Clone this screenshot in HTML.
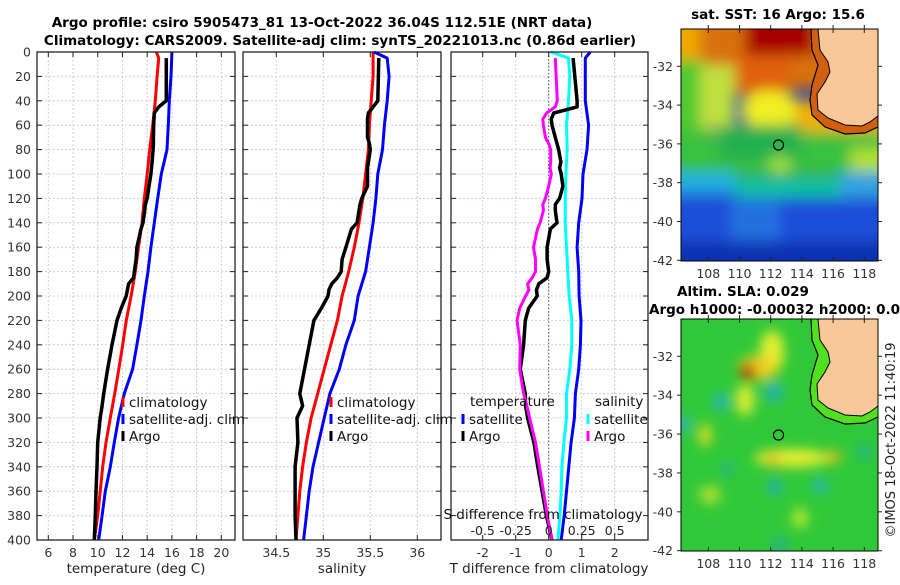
<!DOCTYPE html>
<html><head><meta charset="utf-8"><style>
html,body{margin:0;padding:0;background:#fff;}
svg text{font-family:"DejaVu Sans","Liberation Sans",sans-serif;}
</style></head><body>
<svg id="chart" width="900" height="580" viewBox="0 0 900 580" xmlns="http://www.w3.org/2000/svg">
<defs>
<filter id="blur3" x="-20%" y="-20%" width="140%" height="140%"><feGaussianBlur stdDeviation="7"/></filter>
<filter id="blur6" x="-50%" y="-50%" width="200%" height="200%"><feGaussianBlur stdDeviation="6"/></filter>
<clipPath id="clipM1"><rect x="681" y="29" width="197" height="232"/></clipPath>
<clipPath id="clipM2"><rect x="681" y="319" width="197" height="232"/></clipPath>
</defs>
<text x="322" y="27" font-size="13.5" font-weight="bold" text-anchor="middle" fill="#000">Argo profile: csiro 5905473_81 13-Oct-2022 36.04S 112.51E (NRT data)</text>
<text x="340" y="45" font-size="13.5" font-weight="bold" text-anchor="middle" fill="#000">Climatology: CARS2009. Satellite-adj clim: synTS_20221013.nc (0.86d earlier)</text>
<g id="panels"></g>

<!-- SST map -->
<g>
<text x="778" y="19" font-size="13.5" font-weight="bold" text-anchor="middle">sat. SST: 16 Argo: 15.6</text>
<g clip-path="url(#clipM1)">
<rect x="681" y="29" width="197" height="232" fill="#1a3fd0"/>
<g filter="url(#blur3)">
<rect x="660" y="10" width="240" height="80" fill="#d87010"/>
<rect x="660" y="10" width="40" height="55" fill="#f0a800"/>
<rect x="660" y="60" width="45" height="85" fill="#50c830"/>
<rect x="700" y="65" width="35" height="65" fill="#c0e040"/>
<rect x="745" y="10" width="70" height="45" fill="#a80000"/>
<rect x="735" y="55" width="55" height="40" fill="#e06010"/>
<ellipse cx="770" cy="110" rx="30" ry="20" fill="#f0f020"/>
<rect x="795" y="100" width="100" height="45" fill="#f0b000"/>
<rect x="660" y="132" width="240" height="45" fill="#38c040"/>
<rect x="720" y="125" width="80" height="35" fill="#20b050"/>
<rect x="850" y="148" width="40" height="30" fill="#b0e030"/>
<ellipse cx="780" cy="165" rx="12" ry="9" fill="#a0e040"/>
<rect x="660" y="172" width="75" height="22" fill="#20b0e0"/>
<rect x="735" y="178" width="105" height="28" fill="#10c0a0"/>
<rect x="840" y="172" width="50" height="28" fill="#30a0e0"/>
<rect x="660" y="198" width="240" height="80" fill="#1a4ed8"/>
<rect x="730" y="200" width="50" height="40" fill="#2070e0"/>
<rect x="660" y="242" width="240" height="30" fill="#1030b0"/>
</g>
<path d="M811,29 L812,50 L818,65 L812,85 L810,100 L812,115 L825,127 L845,134 L865,133 L878,127 L878,29 Z" fill="#d06010"/>
<path d="M818,29 L820,50 L828,62 L830,72 L825,82 L817,94 L818,110 L828,118 L845,125 L862,126 L870,122 L878,116 L878,29 Z" fill="#f8c898" stroke="#000" stroke-width="1"/>
<path d="M811,29 L812,50 L818,65 L812,85 L810,100 L812,115 L825,127 L845,134 L865,133 L878,127" fill="none" stroke="#000" stroke-width="1.2"/>
</g>
<circle cx="778.5" cy="145" r="5" fill="none" stroke="#000" stroke-width="1.2"/>
<rect x="681" y="29" width="197" height="232" fill="none" stroke="#000" stroke-width="1"/>
<g id="m1ticks" font-size="12.5" fill="#333"></g>
</g>

<!-- SLA map -->
<g>
<text x="677" y="296" font-size="13.5" font-weight="bold">Altim. SLA: 0.029</text>
<text x="649" y="314" font-size="13.5" font-weight="bold">Argo h1000: -0.00032 h2000: 0.02</text>
<g clip-path="url(#clipM2)">
<rect x="681" y="319" width="197" height="232" fill="#30c838"/>
<g filter="url(#blur6)">
<ellipse cx="772" cy="352" rx="12" ry="22" fill="#e8f030"/>
<ellipse cx="758" cy="368" rx="20" ry="12" fill="#f0d020"/>
<ellipse cx="748" cy="372" rx="8" ry="8" fill="#b01000"/>
<ellipse cx="745" cy="400" rx="9" ry="16" fill="#e0f030"/>
<ellipse cx="705" cy="435" rx="6" ry="11" fill="#f0e020"/>
<ellipse cx="792" cy="458" rx="38" ry="9" fill="#e8f030"/>
<ellipse cx="773" cy="460" rx="8" ry="6" fill="#f0c020"/>
<ellipse cx="833" cy="457" rx="8" ry="6" fill="#f0c020"/>
<ellipse cx="774" cy="392" rx="9" ry="9" fill="#20b0c0"/>
<ellipse cx="721" cy="402" rx="7" ry="8" fill="#20b0d0"/>
<ellipse cx="684" cy="424" rx="5" ry="9" fill="#30b0e0"/>
<ellipse cx="775" cy="487" rx="5" ry="8" fill="#20a0e0"/>
<ellipse cx="820" cy="486" rx="7" ry="7" fill="#20b0d0"/>
<ellipse cx="727" cy="469" rx="6" ry="6" fill="#20b0a0"/>
<ellipse cx="864" cy="452" rx="6" ry="8" fill="#20b0a0"/>
<ellipse cx="710" cy="495" rx="11" ry="9" fill="#b0e030"/>
<ellipse cx="800" cy="518" rx="8" ry="10" fill="#b8e830"/>
<ellipse cx="780" cy="545" rx="7" ry="7" fill="#20a8a0"/>
</g>
<path d="M811,319 L812,340 L818,355 L812,375 L810,390 L812,405 L825,417 L845,424 L865,423 L878,417 L878,319 Z" fill="#50e020"/>
<path d="M818,319 L820,340 L828,352 L830,362 L825,372 L817,384 L818,400 L828,408 L845,415 L862,416 L870,412 L878,406 L878,319 Z" fill="#f8c898" stroke="#000" stroke-width="1"/>
<path d="M811,319 L812,340 L818,355 L812,375 L810,390 L812,405 L825,417 L845,424 L865,423 L878,417" fill="none" stroke="#000" stroke-width="1.2"/>
</g>
<circle cx="778.5" cy="435" r="5" fill="none" stroke="#000" stroke-width="1.2"/>
<rect x="681" y="319" width="197" height="232" fill="none" stroke="#000" stroke-width="1"/>
<g id="m2ticks" font-size="12.5" fill="#333"></g>
</g>
<text transform="translate(895,440) rotate(-90)" font-size="13" text-anchor="middle" fill="#222">©IMOS 18-Oct-2022 11:40:19</text>
</svg>
<script>
// ---- data ----
const depths     = [0,5,20,40,60,80,100,120,140,160,180,200,220,240,260,280,300,320,340,360,380,400];
const tempClim   = [14.74,14.93,14.8,14.66,14.45,14.2,14.0,13.77,13.58,13.3,13.04,12.7,12.31,12.02,11.7,11.37,11.02,10.67,10.4,10.2,10.0,9.72];
const tempSat    = [16.0,15.98,15.93,15.79,15.71,15.6,15.14,14.85,14.58,14.3,14.07,13.77,13.5,13.17,12.82,12.15,11.69,11.34,11.02,10.61,10.35,10.08];
const salClim    = [35.53,35.53,35.53,35.51,35.49,35.48,35.45,35.42,35.38,35.33,35.27,35.2,35.15,35.08,35.01,34.94,34.87,34.82,34.78,34.75,34.73,34.71];
const salSat     = [35.54,35.68,35.7,35.68,35.65,35.63,35.58,35.56,35.53,35.49,35.45,35.37,35.33,35.24,35.17,35.07,35.01,34.95,34.89,34.85,34.82,34.79];
const satTDiff   = [1.26,1.11,1.11,1.11,1.21,1.16,1.04,1.01,0.91,0.86,0.91,0.92,0.98,0.96,0.91,0.81,0.78,0.68,0.61,0.54,0.47,0.38];
const satSDiff   = [0.015,0.15,0.16,0.15,0.135,0.14,0.13,0.125,0.125,0.135,0.145,0.155,0.175,0.175,0.16,0.135,0.135,0.115,0.1,0.095,0.085,0.07];
const argoDepths = [5,40,45,50,55,60,70,75,80,90,95,100,110,120,125,130,140,145,160,170,180,185,190,195,200,210,220,240,260,280,290,300,320,340,360,380,400];
const tempArgo   = [15.55,15.55,14.93,14.58,14.55,14.53,14.5,14.5,14.48,14.4,14.35,14.3,14.15,14.0,13.85,13.8,13.66,13.5,13.17,13.1,12.96,12.9,12.5,12.4,12.3,11.9,11.56,11.15,10.8,10.48,10.35,10.2,10.0,9.94,9.86,9.8,9.72];
const salArgo    = [35.59,35.58,35.53,35.48,35.47,35.47,35.47,35.49,35.5,35.48,35.47,35.47,35.47,35.41,35.39,35.38,35.36,35.3,35.24,35.2,35.19,35.15,35.09,35.06,35.05,34.98,34.9,34.85,34.8,34.75,34.78,34.72,34.73,34.7,34.7,34.7,34.71];
const argoTDiff  = [0.74,0.86,0.86,0.15,0.08,0.1,0.2,0.25,0.3,0.37,0.33,0.38,0.43,0.33,0.2,0.2,0.25,0.05,-0.05,-0.05,0,-0.05,-0.3,-0.37,-0.35,-0.61,-0.71,-0.76,-0.86,-0.71,-0.7,-0.64,-0.45,-0.33,-0.2,-0.07,0.1];
const argoSDiff  = [0.05,0.065,0.05,-0.015,-0.045,-0.04,-0.025,0.0,0.015,0.015,0.01,0.02,0.0,-0.025,-0.045,-0.04,-0.065,-0.085,-0.115,-0.1,-0.1,-0.125,-0.16,-0.15,-0.175,-0.22,-0.24,-0.215,-0.22,-0.19,-0.165,-0.145,-0.1,-0.07,-0.04,-0.01,0.025];
const depthTicks = [0,20,40,60,80,100,120,140,160,180,200,220,240,260,280,300,320,340,360,380,400];
const tempTicks  = [6,8,10,12,14,16,18,20];
const salTicks   = [34.5,35,35.5,36];
const tdTicks    = [-2,-1,0,1,2];
const sdTicks    = [-0.5,-0.25,0,0.25,0.5];
const sdTickLabels = ['-0.5','-0.25','0','0.25','0.5'];
const lonTicks   = [108,110,112,114,116,118];
const latTicks   = [-32,-34,-36,-38,-40,-42];

const NS='http://www.w3.org/2000/svg';
function mk(tag, attrs, parent){const e=document.createElementNS(NS,tag);for(const k in attrs)e.setAttribute(k,attrs[k]);parent.appendChild(e);return e;}
const root=document.getElementById('panels');
const yTop=52, yBot=540;
const yScale=d=>yTop+(d-0)*(yBot-yTop)/400;
const panels=[
 {name:'temperature-panel',x0:37,x1:235,scale:v=>48.3+(v-6)*12.36,ticks:tempTicks,label:'temperature (deg C)'},
 {name:'salinity-panel',x0:243,x1:441,scale:v=>276.3+(v-34.5)*94,ticks:salTicks,label:'salinity'},
 {name:'difference-panel',x0:451,x1:648,scale:v=>548.7+v*33,ticks:tdTicks,label:'T difference from climatology'}
];
const sdScale=v=>548.7+v*132;
function line(g,xs,ys,sx,color,name,w){
  let d='';
  for(let i=0;i<xs.length;i++){d+=(i?'L':'M')+sx(xs[i]).toFixed(1)+','+yScale(ys[i]).toFixed(1);}
  const p=mk('path',{d:d,fill:'none',stroke:color,'stroke-width':w||3,'stroke-linejoin':'round'},g);
  
  
}
panels.forEach((P,pi)=>{
  const g=mk('g',{},root);
  
  
  depthTicks.forEach(d=>{ if(d>0&&d<400) mk('line',{x1:P.x0,x2:P.x1,y1:yScale(d),y2:yScale(d),stroke:'#c8cce8','stroke-width':1,'stroke-dasharray':'2,2'},g); });
  P.ticks.forEach(t=>{ mk('line',{x1:P.scale(t),x2:P.scale(t),y1:yTop,y2:yBot,stroke:'#d8c8d8','stroke-width':1,'stroke-dasharray':'2,2'},g); });
  if(pi===2){ mk('line',{x1:548.7,x2:548.7,y1:yTop,y2:yBot,stroke:'#555','stroke-width':1,'stroke-dasharray':'1.5,2'},g); }
  if(pi===0){ line(g,tempClim,depths,P.scale,'#ff0000','temp-climatology-line');
    line(g,tempSat,depths,P.scale,'#0000ff','temp-satellite-line');
    line(g,tempArgo,argoDepths,P.scale,'#000000','temp-argo-line',3.5);}
  if(pi===1){ line(g,salClim,depths,P.scale,'#ff0000','sal-climatology-line');
    line(g,salSat,depths,P.scale,'#0000ff','sal-satellite-line');
    line(g,salArgo,argoDepths,P.scale,'#000000','sal-argo-line',3.5);}
  if(pi===2){ line(g,satSDiff,depths,sdScale,'#00ffff','sal-satellite-diff-line');
    line(g,satTDiff,depths,P.scale,'#0000ff','temp-satellite-diff-line');
    line(g,argoTDiff,argoDepths,P.scale,'#000000','temp-argo-diff-line',3.5);
    line(g,argoSDiff,argoDepths,sdScale,'#ff00ff','sal-argo-diff-line');}
  mk('rect',{x:P.x0,y:yTop,width:P.x1-P.x0,height:yBot-yTop,fill:'none',stroke:'#222','stroke-width':1.3},g);
  depthTicks.forEach(d=>{ const y=yScale(d);
    mk('line',{x1:P.x0,x2:P.x0+5,y1:y,y2:y,stroke:'#222'},g); mk('line',{x1:P.x1-5,x2:P.x1,y1:y,y2:y,stroke:'#222'},g);
    if(pi===0){ const t=mk('text',{x:31,y:y+4.5,'font-size':12.5,'text-anchor':'end',fill:'#333'},g); t.textContent=d;
      
       }
  });
  P.ticks.forEach(v=>{ const x=P.scale(v);
    mk('line',{x1:x,x2:x,y1:yBot-5,y2:yBot,stroke:'#222'},g); mk('line',{x1:x,x2:x,y1:yTop,y2:yTop+5,stroke:'#222'},g);
    const t=mk('text',{x:x,y:557,'font-size':12.5,'text-anchor':'middle',fill:'#333'},g); t.textContent=String(v);
    
    
  });
  const xl=mk('text',{x:(pi===2?549:(P.x0+P.x1)/2),y:573,'font-size':13.5,'text-anchor':'middle',fill:'#222'},g); xl.textContent=P.label;
  
  
});
function legItem(x,y,color,label,name){
  const g=mk('g',{},root);
  
  
  mk('rect',{x:x-1.5,y:y-10,width:3,height:10,fill:color},g);
  const t=mk('text',{x:x+6,y:y,'font-size':13.5,fill:'#111'},g); t.textContent=label;
}
legItem(123,407,'#ff0000','climatology','legend-climatology');
legItem(123,424,'#0000ff','satellite-adj. clim','legend-satellite');
legItem(123,441,'#000000','Argo','legend-argo');
legItem(331,407,'#ff0000','climatology','legend-climatology-sal');
legItem(331,424,'#0000ff','satellite-adj. clim','legend-satellite-sal');
legItem(331,441,'#000000','Argo','legend-argo-sal');
(function(){const t=mk('text',{x:470,y:406,'font-size':13.5,fill:'#111'},root);t.textContent='temperature';
  
 const s=mk('text',{x:595,y:406,'font-size':13.5,fill:'#111'},root);s.textContent='salinity';
  })();
legItem(463,424,'#0000ff','satellite','legend-temp-satellite');
legItem(463,441,'#000000','Argo','legend-temp-argo');
legItem(588,424,'#00ffff','satellite','legend-sal-satellite');
legItem(588,441,'#ff00ff','Argo','legend-sal-argo');
(function(){const t=mk('text',{x:543,y:519,'font-size':13.5,'text-anchor':'middle',fill:'#111'},root);t.textContent='S difference from climatology';
  
 sdTicks.forEach((v,i)=>{const l=mk('text',{x:sdScale(v),y:535,'font-size':12.5,'text-anchor':'middle',fill:'#222'},root);l.textContent=sdTickLabels[i];
  });})();
function mapTicks(gid,yT,yB,latScale){
  const g=document.getElementById(gid);
  const lonS=v=>708.3+(v-108)*15.6;
  lonTicks.forEach(v=>{const x=lonS(v);
    mk('line',{x1:x,x2:x,y1:yB-4,y2:yB,stroke:'#222'},g); mk('line',{x1:x,x2:x,y1:yT,y2:yT+4,stroke:'#222'},g);
    mk('line',{x1:x,x2:x,y1:yT-4,y2:yT,stroke:'#222'},g);
    const t=mk('text',{x:x,y:yB+17,'text-anchor':'middle'},g);t.textContent=v;
     });
  latTicks.forEach(v=>{const y=latScale(v);
    mk('line',{x1:677,x2:681,y1:y,y2:y,stroke:'#222'},g); mk('line',{x1:878,x2:882,y1:y,y2:y,stroke:'#222'},g);
    const t=mk('text',{x:673,y:y+4.5,'text-anchor':'end'},g);t.textContent=v;
     });
}
mapTicks('m1ticks',29,261,v=>66.3+(-32-v)*19.4);
mapTicks('m2ticks',319,551,v=>356.3+(-32-v)*19.44);
</script>
</body></html>
